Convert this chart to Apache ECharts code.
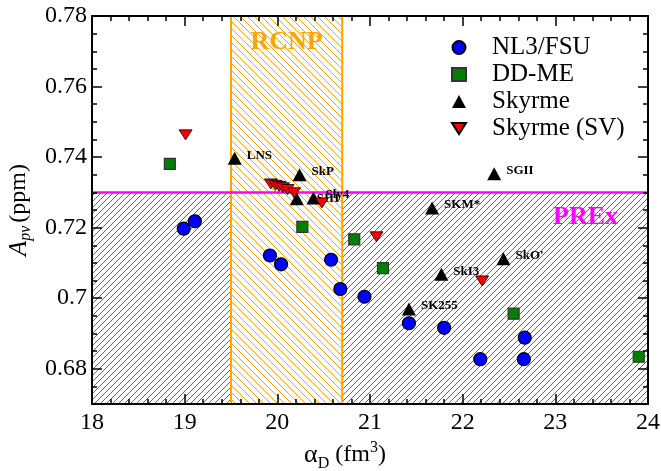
<!DOCTYPE html>
<html>
<head>
<meta charset="utf-8">
<script src="https://cdn.jsdelivr.net/npm/echarts@6/dist/echarts.min.js"></script>
<style>
  html, body { margin: 0; padding: 0; background: #fff; }
  #chart { width: 661px; height: 471px; }
</style>
</head>
<body>
<div id="chart"></div>
<script>
// NL3/FSU (relativistic, non-linear)
const nlX = [18.99, 19.11, 19.92, 20.04, 20.58, 20.68, 20.94, 21.42, 21.80, 22.19, 22.67, 22.66];
const nlY = [0.7197, 0.7218, 0.7121, 0.7096, 0.7109, 0.7026, 0.7004, 0.6929, 0.6916, 0.6827, 0.6888, 0.6827];

// DD-ME
const ddX = [18.84, 20.27, 20.83, 21.14, 22.55, 23.90];
const ddY = [0.7381, 0.7202, 0.7167, 0.7085, 0.6956, 0.6834];

// Skyrme, with names
const skNames = ['LNS', 'SkP', 'SIII', 'Sly4', 'SGII', 'SKM*', "SkO'", 'SkI3', 'SK255'];
const skX = [19.54, 20.24, 20.21, 20.39, 22.34, 21.67, 22.44, 21.77, 21.42];
const skY = [0.7397, 0.7350, 0.7282, 0.7284, 0.7353, 0.7256, 0.7112, 0.7068, 0.6969];

// Skyrme (SV)
const svX = [19.01, 19.93, 19.98, 20.02, 20.06, 20.11, 20.18, 20.48, 21.07, 22.21];
const svY = [0.7463, 0.7324, 0.7320, 0.7317, 0.7313, 0.7308, 0.7299, 0.7270, 0.7174, 0.7049];

// experimental bands
const rcnpRange = [19.5, 20.7];
const prexLimit = 0.73;

const yLabelTicks = [0.68, 0.70, 0.72, 0.74, 0.76, 0.78];

const serif = "'Liberation Serif', serif";

const zip = (xs, ys) => xs.map((x, i) => [x, ys[i]]);

// repeating tile: one pixel-wide diagonal on white, like the grace hatch fills
function hatchTile(color, dir, size) {
  const c = document.createElement('canvas');
  c.width = c.height = size;
  const g = c.getContext('2d');
  g.fillStyle = '#ffffff';
  g.fillRect(0, 0, size, size);
  g.fillStyle = color;
  for (let i = 0; i < size; i++) {
    const y = dir === '/' ? size - 1 - i : i;
    g.fillRect(i, y, 1, 1);
  }
  return c;
}

const chart = echarts.init(document.getElementById('chart'));

const axisLine = { show: true, lineStyle: { color: '#000', width: 2 } };

const xCommon = {
  type: 'value',
  min: 18,
  max: 24,
  interval: 1,
  z: 10,
  axisLine: axisLine,
  axisTick: { show: true, inside: true, length: 10, lineStyle: { color: '#000', width: 1.5 } },
  minorTick: { show: true, splitNumber: 5, length: 5, lineStyle: { color: '#000', width: 1.5 } },
  splitLine: { show: false }
};

const yRange = { type: 'value', min: 0.67, max: 0.78, interval: 0.005, z: 10 };

const option = {
  animation: false,
  backgroundColor: '#fff',
  textStyle: { fontFamily: serif, color: '#000' },
  grid: { left: 92, right: 13, top: 16, bottom: 67, containLabel: false, outerBoundsMode: 'none' },
  legend: {
    orient: 'vertical',
    left: 446,
    top: 30,
    itemWidth: 14,
    itemHeight: 13,
    itemGap: 2,
    data: ['NL3/FSU', 'DD-ME', 'Skyrme', 'Skyrme (SV)'],
    textStyle: { fontFamily: serif, fontSize: 25, color: '#000', padding: [0, 0, 0, 21] }
  },
  xAxis: [
    Object.assign({}, xCommon, {
      position: 'bottom',
      axisLabel: { show: true, fontFamily: serif, fontSize: 24, color: '#000', margin: 7 },
      name: '{g|α}{sub|D}  {n|(fm}{sup|3}{n|)}',
      nameLocation: 'middle',
      nameGap: 33,
      nameTextStyle: {
        fontFamily: serif,
        color: '#000',
        padding: [0, 50, 0, 0],
        rich: {
          g: { fontFamily: serif, fontSize: 26, color: '#000' },
          sub: { fontFamily: serif, fontSize: 16, color: '#000', padding: [18, 0, 0, 0] },
          n: { fontFamily: serif, fontSize: 24, color: '#000' },
          sup: { fontFamily: serif, fontSize: 16, color: '#000', padding: [0, 0, 14, 0] }
        }
      }
    }),
    Object.assign({}, xCommon, { position: 'top', axisLabel: { show: false } })
  ],
  yAxis: [
    Object.assign({}, yRange, {
      position: 'left',
      axisLine: axisLine,
      axisTick: { show: true, inside: true, length: 10, customValues: yLabelTicks, lineStyle: { color: '#000', width: 1.5 } },
      axisLabel: {
        show: true,
        customValues: yLabelTicks,
        fontFamily: serif,
        fontSize: 24,
        color: '#000',
        margin: 5,
        formatter: v => String(+v.toFixed(2))
      },
      splitLine: { show: false },
      name: '{i|A}{sub|pv} {n|(ppm)}',
      nameLocation: 'middle',
      nameGap: 58,
      nameTextStyle: {
        fontFamily: serif,
        color: '#000',
        rich: {
          i: { fontFamily: serif, fontStyle: 'italic', fontSize: 25, color: '#000' },
          sub: { fontFamily: serif, fontStyle: 'italic', fontSize: 16, color: '#000', padding: [14, 0, 0, 0] },
          n: { fontFamily: serif, fontSize: 24, color: '#000' }
        }
      }
    }),
    Object.assign({}, yRange, {
      position: 'left',
      axisLine: { show: false },
      axisTick: { show: true, inside: true, length: 5, lineStyle: { color: '#000', width: 1.5 } },
      axisLabel: { show: false },
      splitLine: { show: false }
    }),
    Object.assign({}, yRange, {
      position: 'right',
      axisLine: axisLine,
      axisTick: { show: true, inside: true, length: 10, customValues: yLabelTicks, lineStyle: { color: '#000', width: 1.5 } },
      axisLabel: { show: false },
      splitLine: { show: false }
    }),
    Object.assign({}, yRange, {
      position: 'right',
      axisLine: { show: false },
      axisTick: { show: true, inside: true, length: 5, lineStyle: { color: '#000', width: 1.5 } },
      axisLabel: { show: false },
      splitLine: { show: false }
    })
  ],
  series: [
    {
      name: 'prex-band',
      type: 'scatter',
      z: 1,
      silent: true,
      data: [],
      markArea: {
        silent: true,
        itemStyle: { color: { image: hatchTile('#ff00ff', '/', 6), repeat: 'repeat' }, opacity: 1 },
        label: {
          show: true,
          position: 'insideTopRight',
          distance: 12,
          offset: [-18, 0],
          formatter: 'PREx',
          fontFamily: serif,
          fontWeight: 'bold',
          fontSize: 26,
          color: '#ff00ff'
        },
        data: [[{ yAxis: 0.67 }, { yAxis: prexLimit }]]
      }
    },
    {
      name: 'rcnp-band',
      type: 'scatter',
      z: 2,
      silent: true,
      data: [],
      markArea: {
        silent: true,
        itemStyle: {
          color: { image: hatchTile('#ffa500', '\\', 7), repeat: 'repeat' },
          opacity: 1,
          borderColor: '#ffa500',
          borderWidth: 2
        },
        label: {
          show: true,
          position: 'insideTop',
          distance: 14,
          formatter: 'RCNP',
          fontFamily: serif,
          fontWeight: 'bold',
          fontSize: 26,
          color: '#ffa500'
        },
        data: [[{ xAxis: rcnpRange[0] }, { xAxis: rcnpRange[1] }]]
      }
    },
    {
      name: 'prex-line',
      type: 'scatter',
      z: 3,
      silent: true,
      data: [],
      markLine: {
        silent: true,
        symbol: 'none',
        label: { show: false },
        lineStyle: { color: '#ff00ff', width: 2.5, type: 'solid', opacity: 1 },
        data: [{ yAxis: prexLimit }]
      }
    },
    {
      name: 'NL3/FSU',
      type: 'scatter',
      z: 5,
      symbol: 'circle',
      symbolSize: 13,
      itemStyle: { color: '#0000ff', borderColor: '#000', borderWidth: 1.2, opacity: 1 },
      data: zip(nlX, nlY)
    },
    {
      name: 'DD-ME',
      type: 'scatter',
      z: 5,
      symbol: 'rect',
      symbolSize: 11,
      itemStyle: { color: '#008000', borderColor: '#333', borderWidth: 1.2, opacity: 1 },
      data: zip(ddX, ddY)
    },
    {
      name: 'Skyrme',
      type: 'scatter',
      z: 6,
      symbol: 'triangle',
      symbolSize: [14, 13],
      itemStyle: { color: '#000', opacity: 1 },
      label: {
        show: true,
        position: 'right',
        distance: 5,
        offset: [0, -3],
        formatter: '{b}',
        fontFamily: serif,
        fontWeight: 'bold',
        fontSize: 13,
        color: '#000'
      },
      data: skNames.map((n, i) => {
        const item = { name: n, value: [skX[i], skY[i]] };
        if (n === 'SIII') item.label = { offset: [8, 0] };
        return item;
      })
    },
    {
      name: 'Skyrme (SV)',
      type: 'scatter',
      z: 7,
      symbol: 'path://M0 0 L10 0 L5 8 Z',
      symbolSize: [13, 10],
      itemStyle: { color: '#ff0000', borderColor: '#000', borderWidth: 0.8, opacity: 1 },
      data: zip(svX, svY)
    }
  ]
};

chart.setOption(option);
</script>
</body>
</html>
